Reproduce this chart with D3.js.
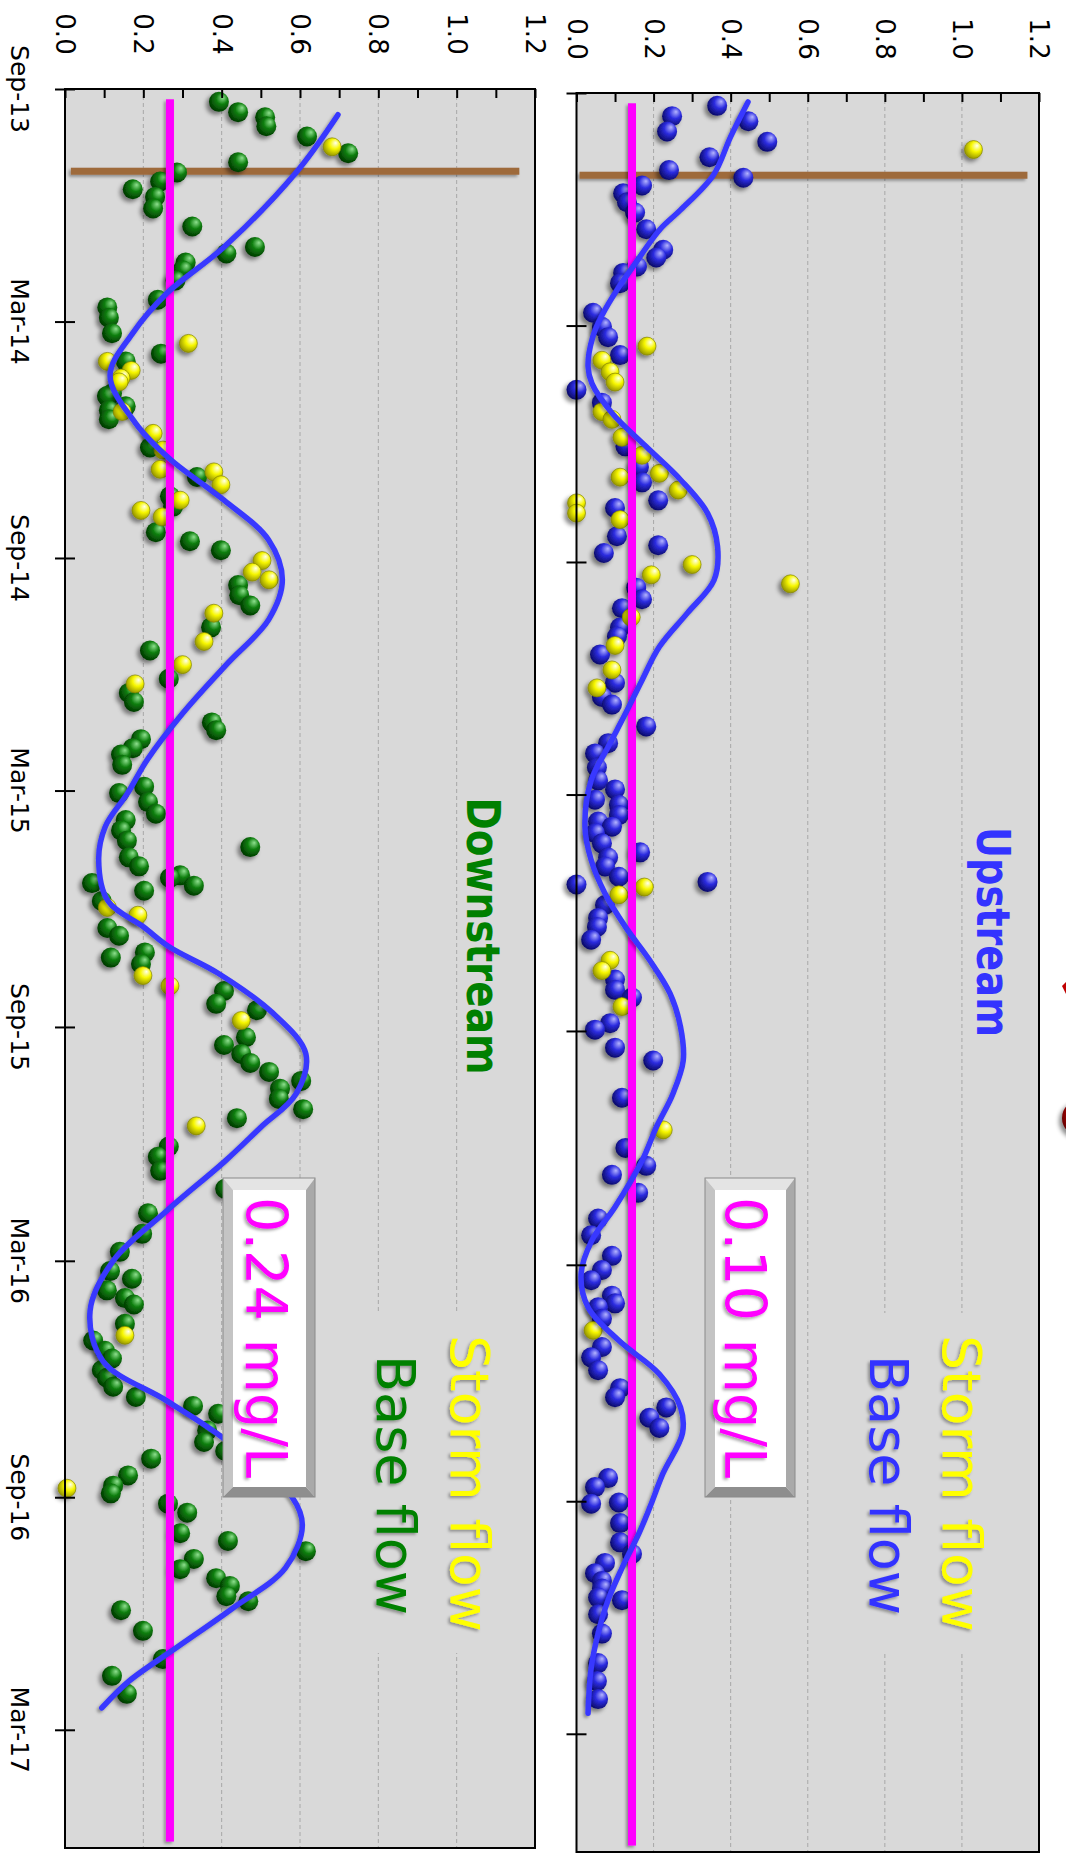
<!DOCTYPE html>
<html><head><meta charset="utf-8">
<script src="https://cdn.jsdelivr.net/npm/d3@7"></script>
<style>body{margin:0;background:#fff}svg{display:block}</style>
</head><body>
<svg id="chart" width="1066" height="1860"></svg>
<script>
// ---------------- DATA ----------------
const dateTicks = ["2013-09-01","2014-03-01","2014-09-01","2015-03-01","2015-09-01","2016-03-01","2016-09-01","2017-03-01"];
const valueTicks = [0,0.1,0.2,0.3,0.4,0.5,0.6,0.7,0.8,0.9,1.0,1.1,1.2];
const valueLabels = [0,0.2,0.4,0.6,0.8,1.0,1.2];
const gridValues = [0.2,0.4,0.6,0.8,1.0];
const dateDomain = ["2013-09-01","2017-06-01"];

const downBase = [["2013-09-11",0.393],["2013-09-19",0.442],["2013-09-23",0.511],["2013-09-30",0.514],["2013-10-08",0.618],["2013-10-21",0.723],["2013-10-28",0.442],["2013-11-05",0.286],["2013-11-12",0.243],["2013-11-18",0.173],["2013-11-24",0.23],["2013-12-03",0.225],["2013-12-17",0.325],["2014-01-02",0.485],["2014-01-07",0.412],["2014-01-14",0.308],["2014-01-20",0.3],["2014-01-28",0.282],["2014-02-12",0.237],["2014-02-18",0.108],["2014-02-26",0.112],["2014-03-10",0.12],["2014-03-26",0.245],["2014-04-01",0.155],["2014-04-26",0.12],["2014-04-28",0.107],["2014-05-06",0.155],["2014-05-09",0.112],["2014-05-16",0.112],["2014-06-07",0.217],["2014-06-30",0.337],["2014-07-15",0.268],["2014-07-23",0.276],["2014-08-12",0.232],["2014-08-19",0.319],["2014-08-26",0.398],["2014-09-22",0.442],["2014-09-30",0.445],["2014-10-08",0.473],["2014-10-25",0.373],["2014-11-12",0.217],["2014-12-04",0.265],["2014-12-15",0.163],["2014-12-22",0.176],["2015-01-07",0.375],["2015-01-13",0.386],["2015-01-20",0.194],["2015-01-27",0.173],["2015-02-01",0.143],["2015-02-09",0.146],["2015-02-26",0.202],["2015-03-03",0.138],["2015-03-10",0.212],["2015-03-19",0.232],["2015-03-24",0.155],["2015-04-01",0.143],["2015-04-09",0.158],["2015-04-14",0.473],["2015-04-22",0.163],["2015-04-29",0.189],["2015-05-06",0.294],["2015-05-08",0.268],["2015-05-12",0.069],["2015-05-14",0.329],["2015-05-18",0.202],["2015-05-26",0.094],["2015-06-16",0.108],["2015-06-22",0.138],["2015-07-05",0.204],["2015-07-09",0.117],["2015-07-14",0.194],["2015-08-04",0.406],["2015-08-14",0.386],["2015-08-19",0.49],["2015-09-09",0.462],["2015-09-15",0.406],["2015-09-22",0.45],["2015-09-29",0.473],["2015-10-06",0.521],["2015-10-13",0.603],["2015-10-19",0.549],["2015-10-27",0.546],["2015-11-04",0.608],["2015-11-11",0.439],["2015-12-03",0.265],["2015-12-11",0.237],["2015-12-22",0.243],["2016-01-05",0.409],["2016-01-24",0.212],["2016-02-09",0.197],["2016-02-23",0.14],["2016-03-09",0.115],["2016-03-15",0.171],["2016-03-24",0.107],["2016-03-30",0.153],["2016-04-04",0.176],["2016-04-19",0.153],["2016-05-02",0.072],["2016-05-10",0.102],["2016-05-16",0.12],["2016-05-25",0.094],["2016-05-31",0.107],["2016-06-07",0.123],["2016-06-15",0.181],["2016-06-22",0.327],["2016-06-28",0.391],["2016-07-11",0.363],["2016-07-20",0.355],["2016-07-27",0.409],["2016-08-02",0.22],["2016-08-15",0.161],["2016-08-23",0.123],["2016-08-29",0.117],["2016-09-06",0.263],["2016-09-13",0.312],["2016-09-29",0.294],["2016-10-05",0.416],["2016-10-13",0.615],["2016-10-19",0.329],["2016-10-27",0.294],["2016-11-03",0.386],["2016-11-09",0.421],["2016-11-17",0.412],["2016-11-21",0.468],["2016-11-28",0.143],["2016-12-14",0.199],["2017-01-05",0.25],["2017-01-18",0.12],["2017-02-01",0.158]];

const downStorm = [["2013-10-16",0.682],["2014-03-18",0.315],["2014-04-01",0.108],["2014-04-08",0.169],["2014-04-14",0.143],["2014-04-17",0.138],["2014-05-10",0.146],["2014-05-27",0.225],["2014-06-09",0.25],["2014-06-24",0.243],["2014-06-26",0.38],["2014-07-06",0.398],["2014-07-18",0.294],["2014-07-26",0.194],["2014-07-31",0.248],["2014-09-03",0.503],["2014-09-12",0.478],["2014-09-18",0.521],["2014-10-14",0.38],["2014-11-05",0.355],["2014-11-23",0.3],["2014-12-08",0.179],["2015-05-31",0.108],["2015-06-06",0.186],["2015-07-23",0.199],["2015-07-31",0.268],["2015-08-27",0.45],["2015-11-17",0.335],["2016-04-28",0.153],["2016-08-25",0.005]];

const downFit = [["2013-09-21",0.697],["2013-11-05",0.59],["2014-01-02",0.406],["2014-02-07",0.26],["2014-03-10",0.173],["2014-04-12",0.115],["2014-05-19",0.18],["2014-06-16",0.268],["2014-07-18",0.406],["2014-08-18",0.52],["2014-09-18",0.555],["2014-10-19",0.52],["2014-11-22",0.415],["2014-12-31",0.30],["2015-02-05",0.21],["2015-03-03",0.16],["2015-03-29",0.103],["2015-04-24",0.086],["2015-05-26",0.11],["2015-06-15",0.2],["2015-07-01",0.268],["2015-07-21",0.39],["2015-08-21",0.53],["2015-09-22",0.615],["2015-10-23",0.59],["2015-11-18",0.50],["2015-12-14",0.41],["2016-01-22",0.26],["2016-03-01",0.123],["2016-04-09",0.064],["2016-05-18",0.097],["2016-06-18",0.26],["2016-07-17",0.404],["2016-09-01",0.58],["2016-09-23",0.606],["2016-10-26",0.563],["2016-11-26",0.43],["2016-12-27",0.285],["2017-01-22",0.164],["2017-02-12",0.094]];

const upBase = [["2013-09-11",0.365],["2013-09-19",0.248],["2013-09-23",0.446],["2013-10-01",0.235],["2013-10-09",0.495],["2013-10-21",0.345],["2013-10-31",0.24],["2013-11-06",0.433],["2013-11-12",0.17],["2013-11-18",0.121],["2013-11-25",0.131],["2013-12-03",0.152],["2013-12-16",0.181],["2014-01-01",0.225],["2014-01-07",0.207],["2014-01-14",0.157],["2014-01-19",0.121],["2014-01-27",0.113],["2014-02-19",0.043],["2014-03-02",0.066],["2014-03-10",0.082],["2014-03-24",0.113],["2014-04-20",0.0],["2014-04-30",0.066],["2014-06-03",0.127],["2014-06-19",0.162],["2014-07-01",0.17],["2014-07-15",0.212],["2014-07-21",0.1],["2014-08-12",0.105],["2014-08-19",0.212],["2014-08-25",0.071],["2014-09-21",0.155],["2014-09-30",0.17],["2014-10-07",0.118],["2014-10-22",0.113],["2014-10-29",0.105],["2014-11-12",0.061],["2014-12-04",0.1],["2014-12-15",0.066],["2014-12-21",0.092],["2015-01-07",0.181],["2015-01-20",0.082],["2015-01-28",0.048],["2015-02-08",0.053],["2015-02-18",0.056],["2015-02-25",0.1],["2015-03-05",0.048],["2015-03-09",0.11],["2015-03-17",0.11],["2015-03-22",0.056],["2015-03-26",0.092],["2015-03-31",0.048],["2015-04-08",0.066],["2015-04-15",0.165],["2015-04-19",0.082],["2015-04-26",0.074],["2015-05-04",0.11],["2015-05-08",0.34],["2015-05-10",0.0],["2015-05-26",0.074],["2015-06-05",0.056],["2015-06-12",0.053],["2015-06-22",0.038],["2015-07-23",0.1],["2015-07-31",0.1],["2015-08-06",0.144],["2015-08-26",0.087],["2015-08-31",0.048],["2015-09-14",0.1],["2015-09-24",0.199],["2015-10-23",0.118],["2015-12-01",0.127],["2015-12-15",0.181],["2015-12-22",0.092],["2016-01-05",0.16],["2016-01-25",0.056],["2016-02-07",0.038],["2016-02-23",0.092],["2016-03-05",0.066],["2016-03-13",0.038],["2016-03-25",0.092],["2016-03-31",0.1],["2016-04-03",0.056],["2016-04-12",0.066],["2016-05-04",0.066],["2016-05-12",0.038],["2016-05-22",0.056],["2016-06-05",0.113],["2016-06-12",0.1],["2016-06-20",0.233],["2016-06-28",0.189],["2016-07-06",0.215],["2016-08-14",0.082],["2016-08-21",0.048],["2016-09-02",0.11],["2016-09-03",0.038],["2016-09-18",0.113],["2016-10-03",0.113],["2016-10-12",0.144],["2016-10-19",0.074],["2016-10-27",0.048],["2016-11-02",0.066],["2016-11-08",0.066],["2016-11-15",0.056],["2016-11-17",0.118],["2016-11-28",0.056],["2016-12-13",0.066],["2017-01-05",0.056],["2017-01-19",0.053],["2017-02-02",0.056]];

const upStorm = [["2013-10-15",1.03],["2014-03-17",0.183],["2014-03-28",0.066],["2014-04-06",0.087],["2014-04-14",0.1],["2014-05-07",0.066],["2014-05-13",0.092],["2014-05-27",0.118],["2014-06-10",0.17],["2014-06-24",0.215],["2014-06-27",0.113],["2014-07-07",0.264],["2014-07-17",0.0],["2014-07-25",0.0],["2014-07-30",0.113],["2014-09-03",0.3],["2014-09-11",0.194],["2014-09-18",0.555],["2014-10-14",0.142],["2014-11-05",0.1],["2014-11-24",0.092],["2014-12-08",0.053],["2015-05-12",0.176],["2015-05-18",0.11],["2015-07-08",0.087],["2015-07-16",0.066],["2015-08-13",0.118],["2015-11-17",0.225],["2016-04-21",0.043]];

const upFit = [["2013-09-08",0.445],["2013-10-05",0.40],["2013-11-04",0.355],["2013-12-01",0.27],["2013-12-16",0.217],["2014-01-14",0.147],["2014-01-30",0.11],["2014-02-20",0.068],["2014-03-10",0.042],["2014-04-02",0.03],["2014-04-15",0.04],["2014-05-08",0.092],["2014-06-03",0.18],["2014-06-29",0.27],["2014-07-25",0.34],["2014-08-20",0.366],["2014-09-15",0.357],["2014-10-11",0.287],["2014-11-06",0.215],["2014-12-02",0.17],["2014-12-28",0.127],["2015-01-23",0.082],["2015-02-18",0.038],["2015-03-26",0.022],["2015-04-21",0.038],["2015-05-17",0.074],["2015-06-12",0.127],["2015-07-08",0.19],["2015-08-03",0.243],["2015-08-29",0.27],["2015-09-24",0.277],["2015-10-20",0.25],["2015-11-15",0.207],["2015-12-11",0.17],["2016-01-16",0.1],["2016-02-11",0.04],["2016-03-08",0.012],["2016-04-03",0.03],["2016-04-29",0.11],["2016-05-25",0.215],["2016-06-20",0.27],["2016-07-10",0.275],["2016-08-10",0.225],["2016-09-06",0.19],["2016-09-26",0.162],["2016-10-23",0.118],["2016-11-17",0.082],["2016-12-13",0.056],["2017-01-09",0.038],["2017-02-13",0.03]];

const meanValues = [0.268, 0.144];          // drawn line positions [down, up]
const meanLabels = ["0.24 mg/L", "0.10 mg/L"];
const meanDates = ["2013-09-09","2017-05-27"];
const eventDate = "2013-11-04";
const eventExtent = [[0.015,1.16],[0.008,1.17]];
const panelNames = ["Downstream","Upstream"];
const legendNames = ["Storm flow","Base flow"];

// ---------------- DRAW ----------------
const parse = d3.timeParse("%Y-%m-%d");
const fmt = d3.timeFormat("%b-%y");
const svg = d3.select("#chart");
const defs = svg.append("defs");
const FONT = "'DejaVu Sans', Verdana, sans-serif";

function ballGrad(id, light, base, dark){
  const g = defs.append("radialGradient").attr("id",id)
    .attr("cx","0.6").attr("cy","0.4").attr("r","0.65").attr("fx","0.7").attr("fy","0.28");
  g.append("stop").attr("offset","0%").attr("stop-color",light);
  g.append("stop").attr("offset","45%").attr("stop-color",base);
  g.append("stop").attr("offset","100%").attr("stop-color",dark);
}
ballGrad("gGreen","#8ee08e","#0c7d0c","#023302");
ballGrad("gBlue","#b4b4ff","#2c2ce0","#08085e");
ballGrad("gYellow","#ffffee","#f7f700","#8f8f00");
ballGrad("gRed","#ff9090","#e00000","#600000");

function shadow(id, dx, dy, sd, op){
  const f = defs.append("filter").attr("id",id).attr("filterUnits","userSpaceOnUse")
    .attr("x",0).attr("y",0).attr("width",1066).attr("height",1860);
  f.append("feDropShadow").attr("dx",dx).attr("dy",dy).attr("stdDeviation",sd).attr("flood-color","#000").attr("flood-opacity",op);
}
shadow("shBall",-3,3,2,0.45);
shadow("shLine",-2,2,1.5,0.35);
shadow("shText",-2,2,1.5,0.35);

const panels = [
  {x0:65, x1:535, y0:89, y1:1848, base:downBase, storm:downStorm, fit:downFit, grad:"gGreen", baseColor:"#008000",
   mean:meanValues[0], meanLabel:meanLabels[0], evt:eventExtent[0], name:panelNames[0], nameX:467, nameY:936, nameLen:277,
   stormX:451, baseX:377, boxX0:223, boxX1:315, boxTextX:246, dateLabels:true, valLabelY:34},
  {x0:576.5, x1:1039, y0:93, y1:1852, base:upBase, storm:upStorm, fit:upFit, grad:"gBlue", baseColor:"#3333ff",
   mean:meanValues[1], meanLabel:meanLabels[1], evt:eventExtent[1], name:panelNames[1], nameX:977, nameY:932, nameLen:210,
   stormX:943, baseX:870, boxX0:705, boxX1:795, boxTextX:725, dateLabels:false, valLabelY:39}
];

panels.forEach(p => {
  const x = d3.scaleLinear().domain([0,1.2]).range([p.x0,p.x1]);
  const y = d3.scaleTime().domain(dateDomain.map(parse)).range([p.y0,p.y1]);
  const g = svg.append("g");

  g.append("rect").attr("x",p.x0).attr("y",p.y0).attr("width",p.x1-p.x0).attr("height",p.y1-p.y0).attr("fill","#d9d9d9");

  g.append("g").selectAll("line").data(gridValues).join("line")
    .attr("x1",d=>x(d)).attr("x2",d=>x(d)).attr("y1",p.y0).attr("y2",p.y1)
    .attr("stroke","#a8a8a8").attr("stroke-width",1).attr("stroke-dasharray","4,3");

  g.append("rect").attr("x",x(0.7)).attr("y",1313).attr("width",x(1.15)-x(0.7)).attr("height",340).attr("fill","#d9d9d9");

  const leg = g.append("g").attr("filter","url(#shText)");
  leg.append("text").attr("transform",`translate(${p.stormX},1335) rotate(90)`)
    .attr("font-family",FONT).attr("font-size",54).attr("fill","#ffff00")
    .attr("textLength",297).attr("lengthAdjust","spacingAndGlyphs").text(legendNames[0]);
  leg.append("text").attr("transform",`translate(${p.baseX},1355) rotate(90)`)
    .attr("font-family",FONT).attr("font-size",54).attr("fill",p.baseColor)
    .attr("textLength",260).attr("lengthAdjust","spacingAndGlyphs").text(legendNames[1]);

  g.append("text").attr("transform",`translate(${p.nameX},${p.nameY}) rotate(90)`)
    .attr("text-anchor","middle").attr("font-family",FONT).attr("font-weight","bold").attr("font-size",46)
    .attr("fill",p.baseColor).attr("textLength",p.nameLen).attr("lengthAdjust","spacingAndGlyphs").text(p.name);

  const ey = y(parse(eventDate));
  g.append("rect").attr("x",x(p.evt[0])).attr("width",x(p.evt[1])-x(p.evt[0]))
    .attr("y",ey-3.5).attr("height",7).attr("fill","#9e6a3a").attr("filter","url(#shLine)");

  const balls = g.append("g").attr("filter","url(#shBall)");
  balls.selectAll("circle.b").data(p.base).join("circle").attr("class","b")
    .attr("cx",d=>x(d[1])).attr("cy",d=>y(parse(d[0]))).attr("r",10)
    .attr("fill",`url(#${p.grad})`);
  balls.selectAll("circle.s").data(p.storm).join("circle").attr("class","s")
    .attr("cx",d=>x(d[1])).attr("cy",d=>y(parse(d[0]))).attr("r",9)
    .attr("fill","url(#gYellow)").attr("stroke","#858500").attr("stroke-width",0.7);

  const my0 = y(parse(meanDates[0])), my1 = y(parse(meanDates[1]));
  g.append("rect").attr("x",x(p.mean)-4).attr("width",8).attr("y",my0).attr("height",my1-my0)
    .attr("fill","#ff00ff").attr("filter","url(#shLine)");

  const line = d3.line().x(d=>x(d[1])).y(d=>y(parse(d[0]))).curve(d3.curveCatmullRom.alpha(0.5));
  g.append("path").datum(p.fit).attr("d",line).attr("fill","none")
    .attr("stroke","#3737ff").attr("stroke-width",5.5).attr("stroke-linecap","round").attr("filter","url(#shLine)");

  const bx0=p.boxX0, bx1=p.boxX1, by0=1178, by1=1497, bl=10, br=9, bt=12, bb=10;
  const box = g.append("g");
  box.append("rect").attr("x",bx0).attr("y",by0).attr("width",bx1-bx0).attr("height",by1-by0).attr("fill","#ffffff");
  const poly = (pts,c)=>box.append("polygon").attr("points",pts.map(q=>q.join(",")).join(" ")).attr("fill",c);
  poly([[bx0,by0],[bx1,by0],[bx1-br,by0+bt],[bx0+bl,by0+bt]],"#e4e4e4");
  poly([[bx0,by0],[bx0+bl,by0+bt],[bx0+bl,by1-bb],[bx0,by1]],"#c4c4c4");
  poly([[bx1,by0],[bx1,by1],[bx1-br,by1-bb],[bx1-br,by0+bt]],"#a9a9a9");
  poly([[bx0,by1],[bx0+bl,by1-bb],[bx1-br,by1-bb],[bx1,by1]],"#8e8e8e");
  box.append("rect").attr("x",bx0).attr("y",by0).attr("width",bx1-bx0).attr("height",by1-by0).attr("fill","none").attr("stroke","#8a8a8a").attr("stroke-width",1);
  box.append("g").attr("filter","url(#shText)").append("text")
    .attr("transform",`translate(${p.boxTextX},1197) rotate(90)`)
    .attr("font-family",FONT).attr("font-size",57).attr("fill","#ff00ff")
    .attr("textLength",281).attr("lengthAdjust","spacingAndGlyphs").text(p.meanLabel);

  g.append("rect").attr("x",p.x0).attr("y",p.y0).attr("width",p.x1-p.x0).attr("height",p.y1-p.y0)
    .attr("fill","none").attr("stroke","#000").attr("stroke-width",2);

  const ax = g.append("g").attr("transform",`translate(0,${p.y0})`)
    .call(d3.axisTop(x).tickValues(valueTicks).tickSizeInner(-9).tickSizeOuter(0).tickFormat(""));
  ax.select(".domain").remove();
  ax.selectAll(".tick line").attr("stroke","#000").attr("stroke-width",2);
  g.append("g").selectAll("text").data(valueLabels).join("text")
    .attr("transform",d=>`translate(${x(d)},${p.valLabelY}) rotate(90)`)
    .attr("text-anchor","middle").attr("dominant-baseline","central")
    .attr("font-family",FONT).attr("font-size",26).attr("fill","#000")
    .text(d=>d3.format(".1f")(d));

  const ay = g.append("g").attr("transform",`translate(${p.x0},0)`)
    .call(d3.axisLeft(y).tickValues(dateTicks.map(parse)).tickSizeInner(10).tickSizeOuter(0).tickFormat(""));
  ay.select(".domain").remove();
  ay.selectAll(".tick line").attr("x1",-10).attr("x2",10).attr("stroke","#000").attr("stroke-width",2);
  if (p.dateLabels) {
    g.append("g").selectAll("text").data(dateTicks).join("text")
      .attr("transform",d=>`translate(19,${y(parse(d))}) rotate(90)`)
      .attr("text-anchor","middle").attr("dominant-baseline","central")
      .attr("font-family",FONT).attr("font-size",25).attr("fill","#000")
      .text(d=>fmt(parse(d)));
  }
});

svg.append("circle").attr("cx",1080).attr("cy",1118).attr("r",18).attr("fill","url(#gRed)").attr("filter","url(#shBall)");
svg.append("polygon").attr("points","1062,986 1066,982 1066,994").attr("fill","#c00000");
</script>
</body></html>
